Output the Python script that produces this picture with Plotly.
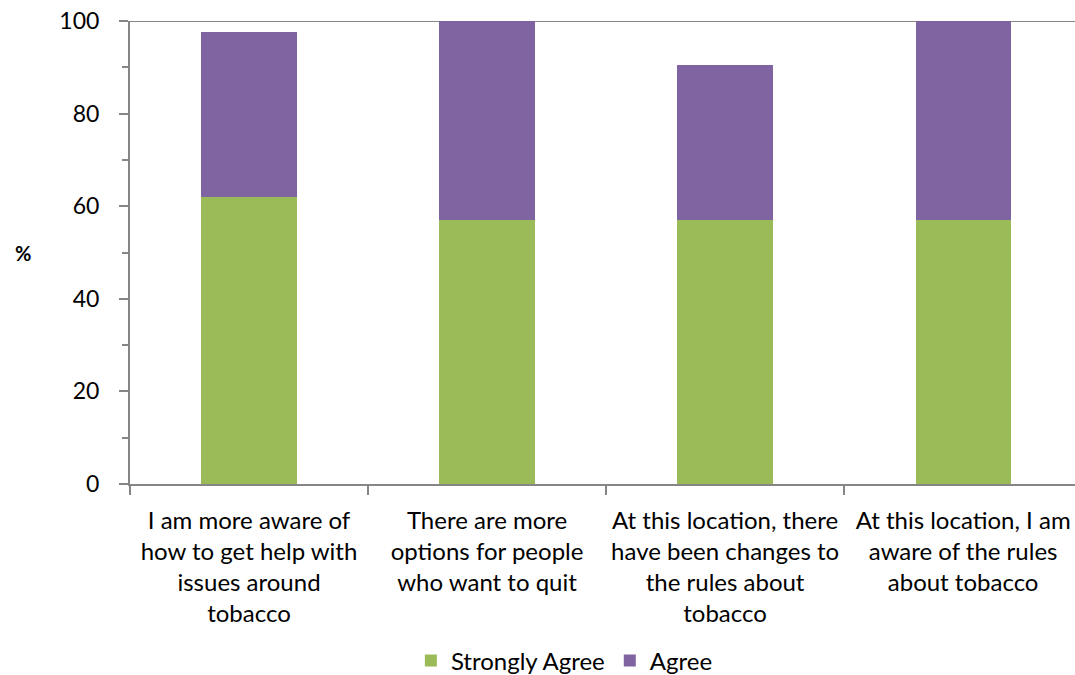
import plotly.graph_objects as go

categories = [
    "I am more aware of<br>how to get help with<br>issues around<br>tobacco",
    "There are more<br>options for people<br>who want to quit",
    "At this location, there<br>have been changes to<br>the rules about<br>tobacco",
    "At this location, I am<br>aware of the rules<br>about tobacco",
]
strongly_agree = [61.9, 57.1, 57.1, 57.1]
agree = [35.7, 42.9, 33.3, 42.9]

FONT = "Lato"
AXIS = "#868686"

fig = go.Figure()
fig.add_trace(go.Bar(x=categories, y=strongly_agree, name="Strongly Agree",
                     marker=dict(color="#9BBB59", line=dict(width=0)), width=0.4))
fig.add_trace(go.Bar(x=categories, y=agree, name="Agree",
                     marker=dict(color="#8064A2", line=dict(width=0)), width=0.4))

fig.update_layout(
    barmode="stack",
    width=1075, height=675,
    margin=dict(l=130, r=0, t=21, b=191),
    paper_bgcolor="white", plot_bgcolor="white",
    font=dict(family=FONT, size=24, color="#000000"),
    showlegend=True,
    legend=dict(orientation="h", xref="container", yref="container",
                x=0.525, y=0.021, xanchor="center", yanchor="middle",
                font=dict(size=24), traceorder="normal", itemwidth=30),
    xaxis=dict(range=[-0.5, 3.47], showline=True, linecolor=AXIS, linewidth=2,
               ticks="outside", tickson="boundaries", ticklen=9, tickcolor=AXIS,
               tickwidth=2, tickangle=0, tickfont=dict(size=24, family=FONT),
               ticklabelstandoff=14,
               showgrid=False, zeroline=False),
    yaxis=dict(range=[0, 100], dtick=20, showline=True, linecolor=AXIS, linewidth=2,
               ticks="outside", ticklen=9, tickcolor=AXIS, tickwidth=2,
               ticklabelstandoff=15,
               minor=dict(ticks="outside", dtick=10, ticklen=6, tickcolor=AXIS, tickwidth=2),
               showgrid=False, zeroline=False, tickfont=dict(size=23, family=FONT)),
    shapes=[dict(type="line", xref="paper", yref="y", x0=0, x1=1, y0=100, y1=100,
                 line=dict(color=AXIS, width=2), layer="below")],
    annotations=[dict(text="<b>%</b>", xref="paper", yref="paper",
                      x=-0.113, y=0.5, xanchor="center", yanchor="middle",
                      showarrow=False, font=dict(size=20, family=FONT))],
)

fig.write_html("out.html", config={"displayModeBar": False})
with open("out.html", "r", encoding="utf-8") as f:
    html = f.read()
html = html.replace("<head>", "<head><style>html,body{margin:0;padding:0;overflow:hidden;}</style>", 1)
with open("out.html", "w", encoding="utf-8") as f:
    f.write(html)
